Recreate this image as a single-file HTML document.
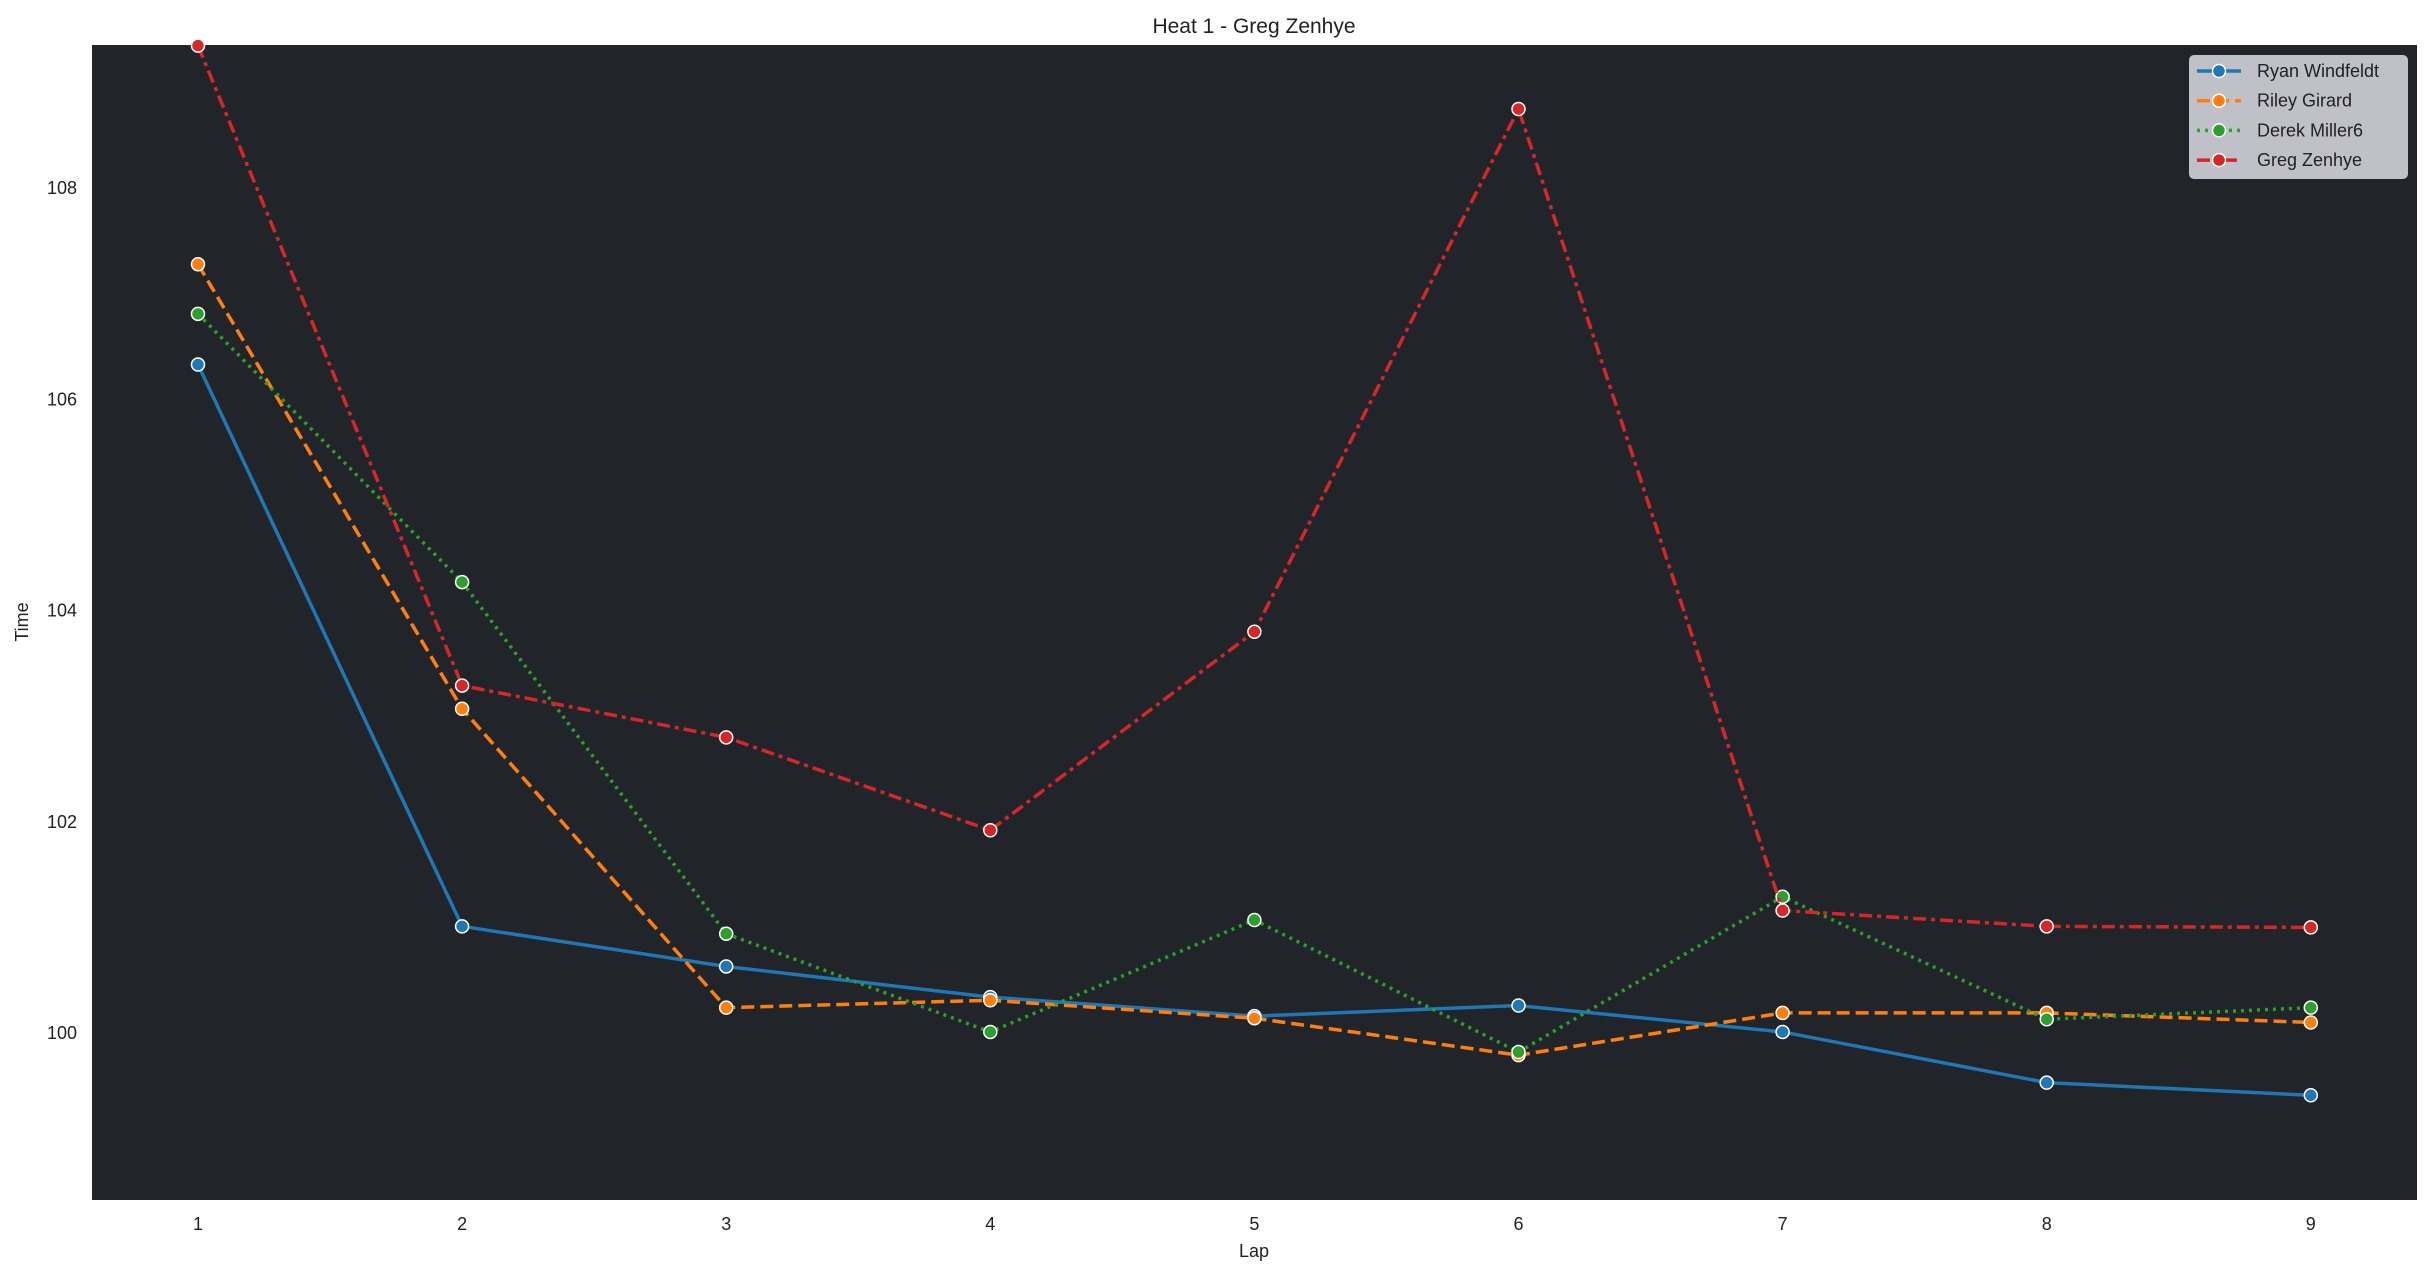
<!DOCTYPE html>
<html><head><meta charset="utf-8"><style>
body{margin:0;background:#fff;}
svg{display:block;font-family:"Liberation Sans",sans-serif;}
</style></head><body>
<svg id="s" width="2431" height="1276" xmlns="http://www.w3.org/2000/svg">
<rect x="92" y="45" width="2325" height="1155" fill="#212429"/>
<text x="1254" y="33" font-size="21" text-anchor="middle" fill="#222">Heat 1 - Greg Zenhye</text>
<text x="1254" y="1257" font-size="18" text-anchor="middle" fill="#222">Lap</text>
<text transform="translate(28,622) rotate(-90)" font-size="18" text-anchor="middle" fill="#222">Time</text>
<g id="ticks" font-size="18" fill="#222"></g>
<g id="lines"></g>
<rect x="2189" y="55" width="219" height="124" rx="5" fill="#c0c1c8"/>
<g id="leg" font-size="18" fill="#222"></g>
</svg>
<script>
const X=l=>198+(l-1)*264.1, Y=v=>1033-(v-100)*105.6;
const ns="http://www.w3.org/2000/svg";
function el(p,t,a,txt){const e=document.createElementNS(ns,t);for(const k in a)e.setAttribute(k,a[k]);if(txt)e.textContent=txt;p.appendChild(e);return e;}
const tk=document.getElementById('ticks');
for(let l=1;l<=9;l++)el(tk,'text',{x:X(l),y:1230,'text-anchor':'middle'},String(l));
for(let v=100;v<=108;v+=2)el(tk,'text',{x:77,y:Y(v)+6,'text-anchor':'end'},String(v));
const S=[
["Ryan Windfeldt","#1f77b4","",[106.33,101.01,100.63,100.34,100.16,100.26,100.01,99.53,99.41]],
["Riley Girard","#ff7f0e","13 6",[107.28,103.07,100.24,100.31,100.14,99.79,100.19,100.19,100.10]],
["Derek Miller6","#2ca02c","3 5",[106.81,104.27,100.94,100.01,101.07,99.82,101.29,100.13,100.24]],
["Greg Zenhye","#d62728","13 5 4 5",[109.35,103.29,102.80,101.92,103.80,108.75,101.16,101.01,101.0]]];
const g=document.getElementById('lines'),lg=document.getElementById('leg');
S.forEach((s,i)=>{
 const pts=s[3].map((v,k)=>X(k+1)+','+Y(v)).join(' ');
 const a={points:pts,fill:'none',stroke:s[1],'stroke-width':3.5};
 if(s[2])a['stroke-dasharray']=s[2];
 el(g,'polyline',a);
 s[3].forEach((v,k)=>el(g,'circle',{cx:X(k+1),cy:Y(v),r:6.5,fill:s[1],stroke:'#fff','stroke-width':1.5}));
 const y=71+i*29.7;
 const la={x1:2197,x2:2241,y1:y,y2:y,stroke:s[1],'stroke-width':3.5};
 if(s[2])la['stroke-dasharray']=s[2];
 el(lg,'line',la);
 el(lg,'circle',{cx:2219,cy:y,r:6.5,fill:s[1],stroke:'#fff','stroke-width':1.5});
 el(lg,'text',{x:2257,y:y+6},s[0]);
});
</script>
</body></html>
